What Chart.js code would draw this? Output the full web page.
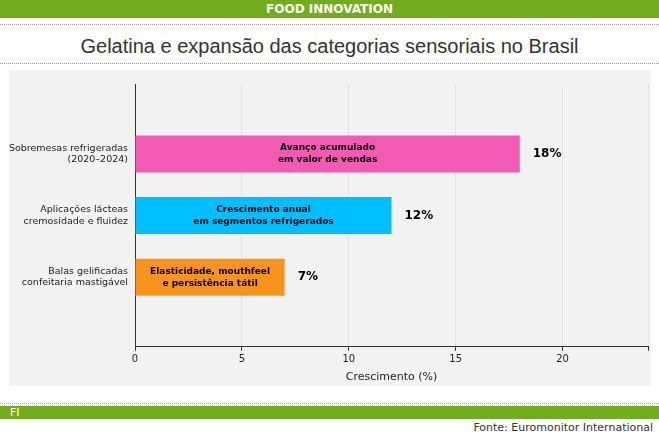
<!DOCTYPE html>
<html lang="pt">
<head>
<meta charset="UTF-8">
<title>Gelatina</title>
<script src="https://cdn.jsdelivr.net/npm/chart.js"></script>
<style>
    body { margin: 0; width: 659px; height: 436px; background: #fff; font-family: "DejaVu Sans", sans-serif; position: relative; overflow: hidden; }
    #top { position: absolute; left: 0; top: 0; width: 659px; height: 18px; background: #72ad1d; color: #fff; font-size: 12px; font-weight: bold; text-align: center; line-height: 18px; }
    .dots { position: absolute; left: 0; width: 659px; border-top: 1px dotted #999; }
    #title { position: absolute; left: 0; top: 30px; width: 659px; text-align: center; font-family: "Liberation Sans", Arial, sans-serif; font-size: 20px; color: #333; line-height: 32px; }
    #panel { position: absolute; left: 9px; top: 70px; width: 642px; height: 316px; background: #f2f2f2; }
    #bottom { position: absolute; left: 0; top: 406px; width: 659px; height: 13px; background: #72ad1d; color: #fff; font-size: 11px; line-height: 13px; padding-left: 10px; box-sizing: border-box; }
    #src { position: absolute; right: 6px; top: 421px; font-size: 11px; color: #333; }
</style>
</head>
<body>
<div id="top">FOOD INNOVATION</div>
<div class="dots" style="top:24px"></div>
<div id="title">Gelatina e expansão das categorias sensoriais no Brasil</div>
<div class="dots" style="top:63px"></div>
<div id="panel"><canvas id="c" width="642" height="316"></canvas></div>
<div class="dots" style="top:403px"></div>
<div id="bottom">FI</div>
<div id="src">Fonte: Euromonitor International</div>
<script>
    const labels = [['Sobremesas refrigeradas', '(2020–2024)'], ['Aplicações lácteas', 'cremosidade e fluidez'], ['Balas gelificadas', 'confeitaria mastigável']];
    const values = [18, 12, 7];
    const inner = [['Avanço acumulado', 'em valor de vendas'], ['Crescimento anual', 'em segmentos refrigerados'], ['Elasticidade, mouthfeel', 'e persistência tátil']];
    const colors = ['#f25ab4', '#00bfff', '#f7941d'];

    const barText = {
        id: 'barText',
        afterDatasetsDraw(chart) {
            const c = chart.ctx;
            chart.getDatasetMeta(0).data.forEach((bar, i) => {
                c.save();
                c.fillStyle = '#000';
                c.textAlign = 'center';
                c.textBaseline = 'middle';
                c.font = 'bold 9px "DejaVu Sans"';
                const mid = (bar.x + bar.base) / 2;
                c.fillText(inner[i][0], mid, bar.y - 6);
                c.fillText(inner[i][1], mid, bar.y + 6);
                c.font = 'bold 12px "DejaVu Sans"';
                c.textAlign = 'left';
                c.fillText(values[i] + '%', bar.x + 13, bar.y);
                c.restore();
            });
        }
    };

    new Chart(document.getElementById('c'), {
        type: 'bar',
        data: { datasets: [{ data: values.map((v, i) => ({ x: v, y: i })), backgroundColor: colors, barPercentage: 0.6, categoryPercentage: 1 }] },
        options: {
            indexAxis: 'y',
            responsive: false,
            animation: false,
            layout: { padding: { top: 5, right: 0, left: 0, bottom: 0 } },
            plugins: { legend: { display: false }, tooltip: { enabled: false } },
            scales: {
                x: {
                    min: 0, max: 24,
                    ticks: { stepSize: 5, color: '#222', font: { size: 10, family: 'DejaVu Sans' }, callback: v => v > 20 ? '' : v },
                    grid: { color: '#e2e2e2', drawTicks: true, tickColor: '#333', tickLength: 4 },
                    border: { color: '#333' },
                    title: { display: true, text: 'Crescimento (%)', color: '#222', font: { size: 11, family: 'DejaVu Sans' }, padding: 2 }
                },
                y: {
                    type: 'linear',
                    reverse: true,
                    min: -0.42, max: 2.42,
                    afterBuildTicks(s) { s.ticks = [0, 1, 2].map(v => ({ value: v })); },
                    ticks: { color: '#222', font: { size: 9.5, family: 'DejaVu Sans' }, callback: v => labels[v] },
                    grid: { display: false, drawTicks: true, tickLength: 4 },
                    border: { color: '#333' },
                    afterFit(s) { s.width = 126; }
                }
            }
        },
        plugins: [barText]
    });
</script>
</body>
</html>
